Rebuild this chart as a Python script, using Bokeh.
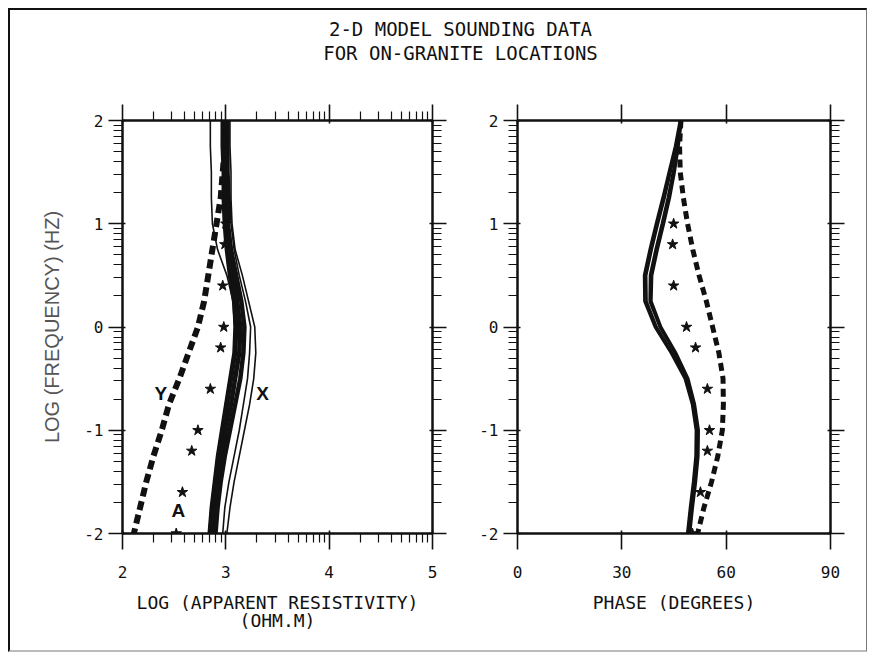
import numpy as np
from bokeh.plotting import figure
from bokeh.models import Range1d, LinearAxis, FixedTicker, Label
from bokeh.layouts import column, row
from bokeh.embed import file_html
from bokeh.resources import INLINE
from bokeh.core.properties import value

# ---------------- data ----------------
title_lines = ["2-D MODEL SOUNDING DATA", "FOR ON-GRANITE LOCATIONS"]

log_freq = [2.0, 1.75, 1.5, 1.25, 1.0, 0.75, 0.5, 0.25, 0.0,
            -0.25, -0.5, -0.75, -1.0, -1.25, -1.5, -1.75, -2.0]

# X (solid bundle) apparent resistivity curves
res_x1 = [2.85, 2.85, 2.86, 2.86, 2.87, 2.92, 3.01, 3.07, 3.08, 3.07, 3.03, 2.99, 2.95, 2.91, 2.88, 2.85, 2.83]
res_x2 = [2.97, 2.97, 2.98, 2.98, 2.99, 3.01, 3.04, 3.08, 3.10, 3.09, 3.05, 3.01, 2.97, 2.93, 2.90, 2.87, 2.85]
res_x3 = [2.99, 2.99, 3.00, 3.00, 3.01, 3.03, 3.07, 3.11, 3.14, 3.13, 3.09, 3.05, 3.00, 2.96, 2.92, 2.89, 2.87]
res_x4 = [3.01, 3.01, 3.01, 3.02, 3.02, 3.05, 3.10, 3.15, 3.18, 3.17, 3.14, 3.09, 3.04, 2.99, 2.95, 2.92, 2.90]
res_x5 = [3.03, 3.03, 3.03, 3.04, 3.05, 3.08, 3.13, 3.19, 3.24, 3.23, 3.21, 3.17, 3.13, 3.08, 3.03, 2.99, 2.97]
res_x6 = [3.04, 3.04, 3.05, 3.05, 3.06, 3.09, 3.16, 3.22, 3.28, 3.29, 3.27, 3.23, 3.18, 3.13, 3.08, 3.04, 3.01]
# Y (dashed) apparent resistivity
res_y = [3.00, 2.99, 2.97, 2.95, 2.91, 2.87, 2.83, 2.79, 2.73, 2.64, 2.55, 2.45, 2.38, 2.30, 2.23, 2.17, 2.11]

# X (solid bundle) phase curves
ph_x1 = [46.7, 45.3, 43.5, 41.7, 39.8, 38.0, 36.4, 36.5, 39.5, 44.1, 48.1, 50.2, 51.3, 51.2, 50.5, 49.6, 48.8]
ph_x2 = [46.9, 45.6, 44.0, 42.3, 40.4, 38.6, 37.0, 37.1, 40.0, 44.5, 48.4, 50.4, 51.5, 51.4, 50.7, 49.8, 49.0]
ph_x3 = [47.1, 46.0, 44.7, 43.2, 41.5, 39.7, 38.1, 38.0, 40.9, 45.2, 48.8, 50.8, 51.9, 51.8, 51.1, 50.2, 49.4]
ph_x4 = [47.2, 46.3, 45.2, 43.8, 42.1, 40.3, 38.7, 38.5, 41.3, 45.6, 49.1, 51.0, 52.1, 52.0, 51.3, 50.4, 49.6]
# Y (dashed) phase
ph_y = [47.0, 46.6, 46.8, 47.7, 48.9, 50.4, 52.2, 54.3, 56.1, 57.9, 59.1, 59.2, 58.9, 57.6, 55.8, 53.6, 51.8]

# A (stars)
star_freq = [1.0, 0.8, 0.4, 0.0, -0.2, -0.6, -1.0, -1.2, -1.6, -2.0]
star_res = [3.00, 2.99, 2.97, 2.98, 2.95, 2.85, 2.73, 2.67, 2.58, 2.52]
star_phase = [44.9, 44.6, 44.9, 48.6, 51.2, 54.6, 55.2, 54.6, 52.6, 50.3]

# ticks / labels
freq_ticks = [-2, -1, 0, 1, 2]
freq_tick_labels = ["-2", "-1", "0", "1", "2"]
res_ticks = [2, 3, 4, 5]
res_tick_labels = ["2", "3", "4", "5"]
phase_ticks = [0, 30, 60, 90]
phase_tick_labels = ["0", "30", "60", "90"]
res_axis_label = "LOG (APPARENT RESISTIVITY)\n(OHM.M)"
phase_axis_label = "PHASE (DEGREES)"
freq_axis_label = "LOG (FREQUENCY) (HZ)"

curve_labels = ["Y", "X", "A"]
curve_label_res = [2.37, 3.355, 2.54]
curve_label_freq = [-0.64, -0.64, -1.78]

# ---------------- style ----------------
INK = "#111111"
MONO = "DejaVu Sans Mono"


def log_minor(lo, hi):
    return [d + float(np.log10(k)) for d in range(lo, hi) for k in range(2, 10)]


def style_axis(ax, ticks, labels, show, tick_out, minor_out, standoff):
    ax.axis_line_color = INK
    ax.axis_line_width = 2
    ax.major_tick_line_color = INK
    ax.major_tick_line_width = 1.6
    ax.minor_tick_line_color = INK
    ax.minor_tick_line_width = 1.2
    ax.major_tick_out = tick_out
    ax.major_tick_in = 3
    ax.minor_tick_out = minor_out
    ax.minor_tick_in = 0
    ax.major_label_text_font = MONO
    ax.major_label_text_font_size = "16px"
    ax.major_label_text_color = INK
    ax.major_label_standoff = standoff
    if show:
        ax.major_label_overrides = {t: s for t, s in zip(ticks, labels)}
    else:
        ax.major_label_overrides = {t: "" for t in ticks}


def make_panel(width, x_lo, x_hi, left, right, x_ticks, x_labels, x_minor, x_label, y_label):
    p = figure(width=width, height=560, x_range=Range1d(x_lo, x_hi), y_range=Range1d(-2, 2),
               output_backend="svg", toolbar_location=None,
               x_axis_location=None, y_axis_location=None,
               min_border_left=left, min_border_right=right,
               min_border_top=30, min_border_bottom=117)
    p.grid.visible = False
    p.outline_line_color = INK
    p.outline_line_width = 2
    p.background_fill_color = "white"
    p.border_fill_color = "white"

    y_minor = log_minor(-2, 2)
    for loc in ("below", "above"):
        ax = LinearAxis(ticker=FixedTicker(ticks=x_ticks, minor_ticks=x_minor))
        style_axis(ax, x_ticks, x_labels, loc == "below", 16, 9 if x_minor else 0, 16)
        if loc == "below":
            ax.axis_label = x_label
            ax.axis_label_text_font = MONO
            ax.axis_label_text_font_size = "18px"
            ax.axis_label_text_font_style = "normal"
            ax.axis_label_text_color = INK
            ax.axis_label_standoff = 11
            ax.axis_label_text_line_height = 0.9
        p.add_layout(ax, loc)
    for loc in ("left", "right"):
        ax = LinearAxis(ticker=FixedTicker(ticks=freq_ticks, minor_ticks=y_minor))
        style_axis(ax, freq_ticks, freq_tick_labels, loc == "left", 14, 9, 5)
        if loc == "left" and y_label:
            ax.axis_label = y_label
            ax.axis_label_text_font = "Liberation Sans"
            ax.axis_label_text_font_size = "20px"
            ax.axis_label_text_font_style = "normal"
            ax.axis_label_text_color = "#555555"
            ax.axis_label_standoff = 18
        p.add_layout(ax, loc)
    return p


# ---------------- title ----------------
tfig = figure(width=856, height=80, x_range=Range1d(10, 866), y_range=Range1d(90, 10),
              output_backend="svg", toolbar_location=None,
              x_axis_location=None, y_axis_location=None,
              min_border=0, min_border_left=0, min_border_right=0, min_border_top=0, min_border_bottom=0)
tfig.grid.visible = False
tfig.outline_line_color = None
tfig.text(x=[460, 460], y=[28, 52], text=title_lines, text_font=value(MONO),
          text_font_size="19px", text_color=INK, text_align="center", text_baseline="middle")

# ---------------- resistivity panel ----------------
p1 = make_panel(465, 2, 5, 112, 43, res_ticks, res_tick_labels, log_minor(2, 5),
                res_axis_label, freq_axis_label)
for xs, w in ((res_x1, 1.6), (res_x2, 4.5), (res_x3, 4.5), (res_x4, 4.5), (res_x5, 1.6), (res_x6, 1.6)):
    p1.line(xs, log_freq, line_color=INK, line_width=w)
p1.line(res_y, log_freq, line_color=INK, line_width=6, line_dash="9 5")
p1.scatter(star_res, star_freq, marker="star", size=11, fill_color=INK, line_color=INK)
for t, xv, yv in zip(curve_labels, curve_label_res, curve_label_freq):
    p1.add_layout(Label(x=xv, y=yv, text=t, text_font="Liberation Sans", text_font_size="19px",
                        text_font_style="bold", text_color=INK, text_align="center",
                        text_baseline="middle"))

# ---------------- phase panel ----------------
p2 = make_panel(391, 0, 90, 42, 36, phase_ticks, phase_tick_labels, [],
                phase_axis_label, None)
for xs in (ph_x1, ph_x2, ph_x3, ph_x4):
    p2.line(xs, log_freq, line_color=INK, line_width=2.6)
p2.line(ph_y, log_freq, line_color=INK, line_width=5, line_dash="8 5")
p2.scatter(star_phase, star_freq, marker="star", size=11, fill_color=INK, line_color=INK)

layout = column(tfig, row(p1, p2), margin=(8, 0, 0, 8),
                styles={"border-left": "2px solid #111", "border-top": "2px solid #111",
                        "border-right": "1px solid #777", "border-bottom": "2px solid #bbb"})

open("out.html", "w").write(file_html(layout, INLINE))
